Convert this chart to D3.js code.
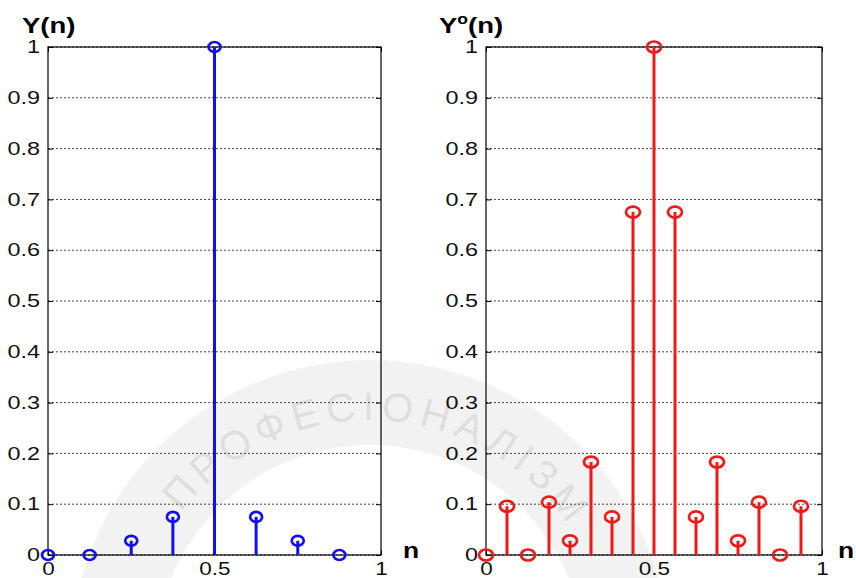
<!DOCTYPE html>
<html>
<head>
<meta charset="utf-8">
<script src="https://d3js.org/d3.v7.min.js"></script>
<style>
  body { margin: 0; background: #fff; }
  text { font-family: "Liberation Sans", Arial, sans-serif; }
</style>
</head>
<body>
<div id="chart"></div>
<script>
// data
var nLeft = [0, 1/8, 2/8, 3/8, 4/8, 5/8, 6/8, 7/8];
var yLeft = [0, 0, 0.028, 0.075, 1, 0.075, 0.028, 0];

var nRight = [0, 1/16, 2/16, 3/16, 4/16, 5/16, 6/16, 7/16, 8/16, 9/16, 10/16, 11/16, 12/16, 13/16, 14/16, 15/16];
var yRight = [0, 0.096, 0, 0.104, 0.028, 0.183, 0.075, 0.675, 1, 0.675, 0.075, 0.183, 0.028, 0.104, 0, 0.096];

var yTicks = [0, 0.1, 0.2, 0.3, 0.4, 0.5, 0.6, 0.7, 0.8, 0.9, 1];
var xTicks = [0, 0.5, 1];

var W = 856, H = 578;
var svg = d3.select("#chart").append("svg")
  .attr("width", W).attr("height", H);

// faint watermark behind the plots
var wm = svg.append("g").attr("transform", "translate(370,660)");
wm.append("path")
  .attr("d", d3.arc().innerRadius(215).outerRadius(300).startAngle(0).endAngle(2 * Math.PI)())
  .attr("fill", "#000").attr("opacity", 0.05);
var r = 240, a0 = -142 * Math.PI / 180, a1 = -30 * Math.PI / 180;
wm.append("path").attr("id", "wmArc")
  .attr("d", "M" + r * Math.cos(a0) + "," + r * Math.sin(a0) +
    " A" + r + "," + r + " 0 0 1 " + r * Math.cos(a1) + "," + r * Math.sin(a1))
  .attr("fill", "none");
wm.append("text").attr("font-size", 40).attr("fill", "#000").attr("opacity", 0.08)
  .attr("font-family", "DejaVu Serif, serif")
  .append("textPath").attr("href", "#wmArc")
  .attr("textLength", 450).attr("lengthAdjust", "spacing")
  .text("ПРОФЕСІОНАЛІЗМ");

var y = d3.scaleLinear().domain([0, 1]).range([555, 47]);

// one stem panel
function panel(opt) {
  var x = d3.scaleLinear().domain([0, 1]).range([opt.x0, opt.x1]);
  var g = svg.append("g");

  // dotted grid
  g.selectAll(".grid").data(yTicks).enter().append("line")
    .attr("x1", x(0)).attr("x2", x(1))
    .attr("y1", function(d) { return y(d); })
    .attr("y2", function(d) { return y(d); })
    .attr("stroke", "#444").attr("stroke-width", 1)
    .attr("stroke-dasharray", "2,2");

  // box
  g.append("rect")
    .attr("x", x(0)).attr("y", y(1))
    .attr("width", x(1) - x(0)).attr("height", y(0) - y(1))
    .attr("fill", "none").attr("stroke", "#000").attr("stroke-width", 1.2);

  // ticks on both sides
  var ya = d3.axisLeft(y).tickValues(yTicks).tickSize(-5).tickPadding(8)
    .tickFormat(function(d) { return d3.format("")(+d.toFixed(1)); });
  var yAx = g.append("g").attr("transform", "translate(" + x(0) + ",0)").call(ya);
  var yr = d3.axisRight(y).tickValues(yTicks).tickSize(-5).tickFormat("");
  g.append("g").attr("transform", "translate(" + x(1) + ",0)").call(yr);
  var xa = d3.axisBottom(x).tickValues(xTicks).tickSize(-5).tickPadding(7)
    .tickFormat(d3.format(""));
  var xAx = g.append("g").attr("transform", "translate(0," + y(0) + ")").call(xa);
  var xt = d3.axisTop(x).tickValues(xTicks).tickSize(-5).tickFormat("");
  g.append("g").attr("transform", "translate(0," + y(1) + ")").call(xt);

  g.selectAll(".domain").remove();
  g.selectAll(".tick line").attr("stroke", "#000");
  g.selectAll(".tick text").attr("font-size", 18).attr("fill", "#111")
    .attr("font-family", "Liberation Sans, Arial, sans-serif");
  xAx.selectAll(".tick text").attr("transform", "scale(1.25,1)");
  yAx.selectAll(".tick text")
    .attr("transform", "translate(-8,0) scale(1.3,1)").attr("x", 0);

  // stems
  var data = opt.n.map(function(v, i) { return {n: v, v: opt.v[i]}; });
  g.selectAll(".stem").data(data).enter().append("line")
    .attr("x1", function(d) { return x(d.n); })
    .attr("x2", function(d) { return x(d.n); })
    .attr("y1", y(0))
    .attr("y2", function(d) { return y(d.v); })
    .attr("stroke", opt.color).attr("stroke-width", 3);
  g.selectAll(".mark").data(data).enter().append("ellipse")
    .attr("cx", function(d) { return x(d.n); })
    .attr("cy", function(d) { return y(d.v); })
    .attr("rx", opt.rx).attr("ry", opt.ry)
    .attr("fill", "none").attr("stroke", opt.color).attr("stroke-width", 2.7);

  // labels
  var t = g.append("text").attr("font-weight", "bold").attr("font-size", 22)
    .attr("transform", "translate(" + opt.tx + ",33) scale(1.25,1)");
  t.append("tspan").text("Y");
  if (opt.sup) {
    t.append("tspan").attr("font-size", 14).attr("dy", -9).text("o");
    t.append("tspan").attr("dy", 9).text("(n)");
  } else {
    t.append("tspan").text("(n)");
  }
  g.append("text").attr("font-weight", "bold").attr("font-size", 22)
    .attr("transform", "translate(" + (x(1) + opt.nOff) + ",558) scale(1.2,1)")
    .text("n");
}

panel({x0: 48, x1: 381, n: nLeft, v: yLeft, color: "#1010ee", rx: 6, ry: 5, tx: 22, sup: false, nOff: 22});
panel({x0: 486, x1: 822, n: nRight, v: yRight, color: "#f01818", rx: 7, ry: 5.5, tx: 439, sup: true, nOff: 16});
</script>
</body>
</html>
